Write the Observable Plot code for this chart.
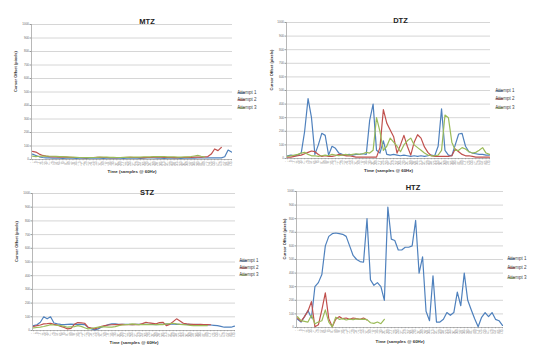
<!DOCTYPE html>
<html><head><meta charset="utf-8">
<script src="https://cdn.jsdelivr.net/npm/d3@7"></script>
<script src="https://cdn.jsdelivr.net/npm/@observablehq/plot@0.6"></script>
<style>
body{margin:0;background:#fff;}
#root{position:relative;width:536px;height:347px;overflow:hidden;}
.panel{position:absolute;}
</style></head><body><div id="root"></div>
<script>
const FONT = "'Liberation Sans', Arial, sans-serif";
const seriesNames = ["Attempt 1", "Attempt 2", "Attempt 3"];
const seriesColors = ["#4F81BD", "#C0504D", "#9BBB59"];
const yTicks = [0, 100, 200, 300, 400, 500, 600, 700, 800, 900, 1000];
const sampleIdx = d3.range(60);
const sampleLabels = sampleIdx.map(i => String(1 + 8 * i));
const xTitle = "Time (samples @ 60Hz)";
const yTitle = "Cursor Offset (pixels)";

// MTZ
const mtzA1 = [40,30,20,15,12,12,10,11,10,9, 10,11,10,9,10,10,9,10,11,10, 10,9,10,10,11,10,10,9,10,11, 10,10,9,10,11,12,11,10,10,9, 10,10,11,10,9,10,11,10,10,11, 12,11,12,12,12,12,12,20,70,55];
const mtzA2 = [60,55,40,30,25,22,20,20,18,18, 17,16,15,15,15,14,14,15,15,16, 16,15,15,14,14,14,15,15,16,16, 15,15,14,14,15,16,18,18,17,16, 15,15,14,14,15,15,16,16,17,18, 18,19,22,40,78,66,90];
const mtzA3 = [25,22,24,26,25,24,24,23,22,22, 20,18,17,16,15,15,14,14,15,16, 18,18,17,16,16,15,15,16,16,17, 17,18,18,19,20,20,21,22,22,21, 20,20,19,18,18,19,20,22,26,30, 24,20];

// DTZ
const dtzA1 = [20,25,20,25,40, 200,440,300,30,100, 185,170,25,90,75, 40,30,25,30,25, 30,30,35,30,280, 400,60,40,130,30, 25,30,25,20,25, 20,15,20,15,20, 15,20,25,20,90, 365,60,25,20,100, 180,185,90,50,40, 35,30,30,25,25];
const dtzA2 = [10,10,15,20,25, 35,45,55,50,30, 15,20,15,15,20, 30,25,20,20,15, 10,10,10,10,10, 10,10,80,360,260, 210,160,40,100,170, 90,25,120,175,150, 85,45,20,15,15, 15,15,15,20,70, 50,30,20,20,15, 10,10,10,10,10];
const dtzA3 = [15,20,25,30,40, 45,30,20,20,15, 20,25,20,30,25, 20,25,30,25,30, 35,30,35,45,40, 60,300,200,60,90, 150,120,90,50,100, 130,150,100,80,60, 40,25,20,20,25, 60,320,300,120,60, 60,80,70,50,40, 45,60,80,40,30];

// STZ
const stzA1 = [36,42,60,100,85,100,55,48,45,43, 45,46,45,44,45,43,24,12,5,12, 25,35,43,48,48,45,44,45,44,43, 44,45,44,45,45,44,43,44,45,46, 47,48,45,44,44,45,44,43,44,43, 42,41,40,38,36,30,24,24,24,32];
const stzA2 = [29,35,40,48,50,53,45,40,30,22, 12,15,45,58,56, 53,24,18,12,20, 30,36,40,42,43, 43,44,43,42,43, 44,43,50,60,55, 52,48,58,60,36, 45,65,85,70,53, 48,45,44,43,44, 43,43,42];
const stzA3 = [19,22,25,29,35,43,40,38,36,30, 24,26,28,36,30,20,12,15,20,24, 28,26,24,25,28,36,40,43,45,48, 45,43,43,44,43,42,43,44,43,48, 50,53,48,45,43,40,38,36,36,35, 36,35];

// HTZ
const htzA1 = [60,40,80,125,70, 300,330,390,600,670, 690,695,690,685,670, 600,530,500,485,480, 800,350,310,330,300, 200,885,650,640,570, 570,590,590,600,787, 400,520,120,50,380, 40,40,60,110,90, 110,260,160,400,200, 130,64,5,75,110, 80,110,60,50,15];
const htzA2 = [70,45,80,120,190,5,20,130,255,64, 5,60,80,65,70,60,70,65,60,70, 55];
const htzA3 = [80,50,45,40,90,27,40,50,130,40, 5,76,60,65,55,62,58,64,60,62, 58,35,30,40,28,60];

const panels = [
  {title: "MTZ", series: [mtzA1, mtzA2, mtzA3], left: 0, top: 0, w: 268, h: 174,
   ml: 31, mr: 36, mt: 24, mb: 15, tdx: 15, tdy: -6, xdy: 13, ydx: -16,
   lx: 238, ly: [93, 100, 108]},
  {title: "DTZ", series: [dtzA1, dtzA2, dtzA3], left: 268, top: 0, w: 268, h: 174,
   ml: 18, mr: 46, mt: 22, mb: 16, tdx: 12, tdy: -5, xdy: 13, ydx: -15,
   lx: 228, ly: [91, 99, 108]},
  {title: "STZ", series: [stzA1, stzA2, stzA3], left: 0, top: 174, w: 268, h: 173,
   ml: 32, mr: 33, mt: 19, mb: 17, tdx: 13, tdy: -4, xdy: 13, ydx: -16,
   lx: 240, ly: [87, 94, 101]},
  {title: "HTZ", series: [htzA1, htzA2, htzA3], left: 268, top: 174, w: 268, h: 173,
   ml: 28, mr: 33, mt: 17, mb: 20, tdx: 13, tdy: -7, xdy: 15, ydx: -12,
   lx: 240, ly: [85, 94, 104]}
];

const xDomain = [-0.3, 59.3];
const root = document.getElementById("root");

for (const cfg of panels) {
  const rows = [];
  cfg.series.forEach((vals, k) => vals.forEach((v, i) => rows.push({sample: i, value: v, attempt: seriesNames[k]})));
  const svg = Plot.plot({
    width: cfg.w, height: cfg.h,
    marginLeft: cfg.ml, marginRight: cfg.mr, marginTop: cfg.mt, marginBottom: cfg.mb,
    style: {fontFamily: FONT, background: "transparent", overflow: "visible"},
    x: {type: "linear", domain: xDomain},
    y: {domain: [0, 1000]},
    color: {domain: seriesNames, range: seriesColors},
    marks: [
      Plot.gridY({ticks: yTicks.filter(t => t > 0), stroke: "#cccccc", strokeOpacity: 1, strokeWidth: 0.8}),
      Plot.axisY({ticks: yTicks, tickFormat: d => String(d), fontSize: 3, tickSize: 1.5, tickPadding: 1, fill: "#666", stroke: "#999", label: null}),
      Plot.axisX({ticks: sampleIdx, tickRotate: -90, fontSize: 2.6, tickSize: 1.2, tickPadding: 0.8, fill: "#777", stroke: "#aaa", tickFormat: i => sampleLabels[i], label: null}),
      Plot.ruleY([0], {stroke: "#999", strokeWidth: 0.7}),
      Plot.ruleX([xDomain[0]], {stroke: "#999", strokeWidth: 0.7}),
      Plot.line(rows, {x: "sample", y: "value", z: "attempt", stroke: "attempt", strokeWidth: 1.2}),
      Plot.text([cfg.title], {frameAnchor: "top", dx: cfg.tdx, dy: cfg.tdy, fontSize: 7.5, fontWeight: "bold", fill: "#222"}),
      Plot.text([xTitle], {frameAnchor: "bottom", dy: cfg.xdy, fontSize: 4.4, fontWeight: "bold", fill: "#333"}),
      Plot.text([yTitle], {frameAnchor: "left", dx: cfg.ydx, rotate: -90, fontSize: 4, fontWeight: "bold", fill: "#333"})
    ]
  });
  const s = d3.select(svg);
  const lg = s.append("g").attr("font-family", FONT).attr("font-size", 4.5).attr("fill", "#444");
  seriesNames.forEach((name, k) => {
    lg.append("line").attr("x1", cfg.lx).attr("x2", cfg.lx + 7).attr("y1", cfg.ly[k]).attr("y2", cfg.ly[k])
      .attr("stroke", seriesColors[k]).attr("stroke-width", 1.2);
    lg.append("text").attr("x", cfg.lx + 9).attr("y", cfg.ly[k]).attr("dy", "0.32em").text(name);
  });
  const wrap = document.createElement("div");
  wrap.className = "panel";
  wrap.style.left = cfg.left + "px";
  wrap.style.top = cfg.top + "px";
  wrap.appendChild(svg);
  root.appendChild(wrap);
}
</script></body></html>
